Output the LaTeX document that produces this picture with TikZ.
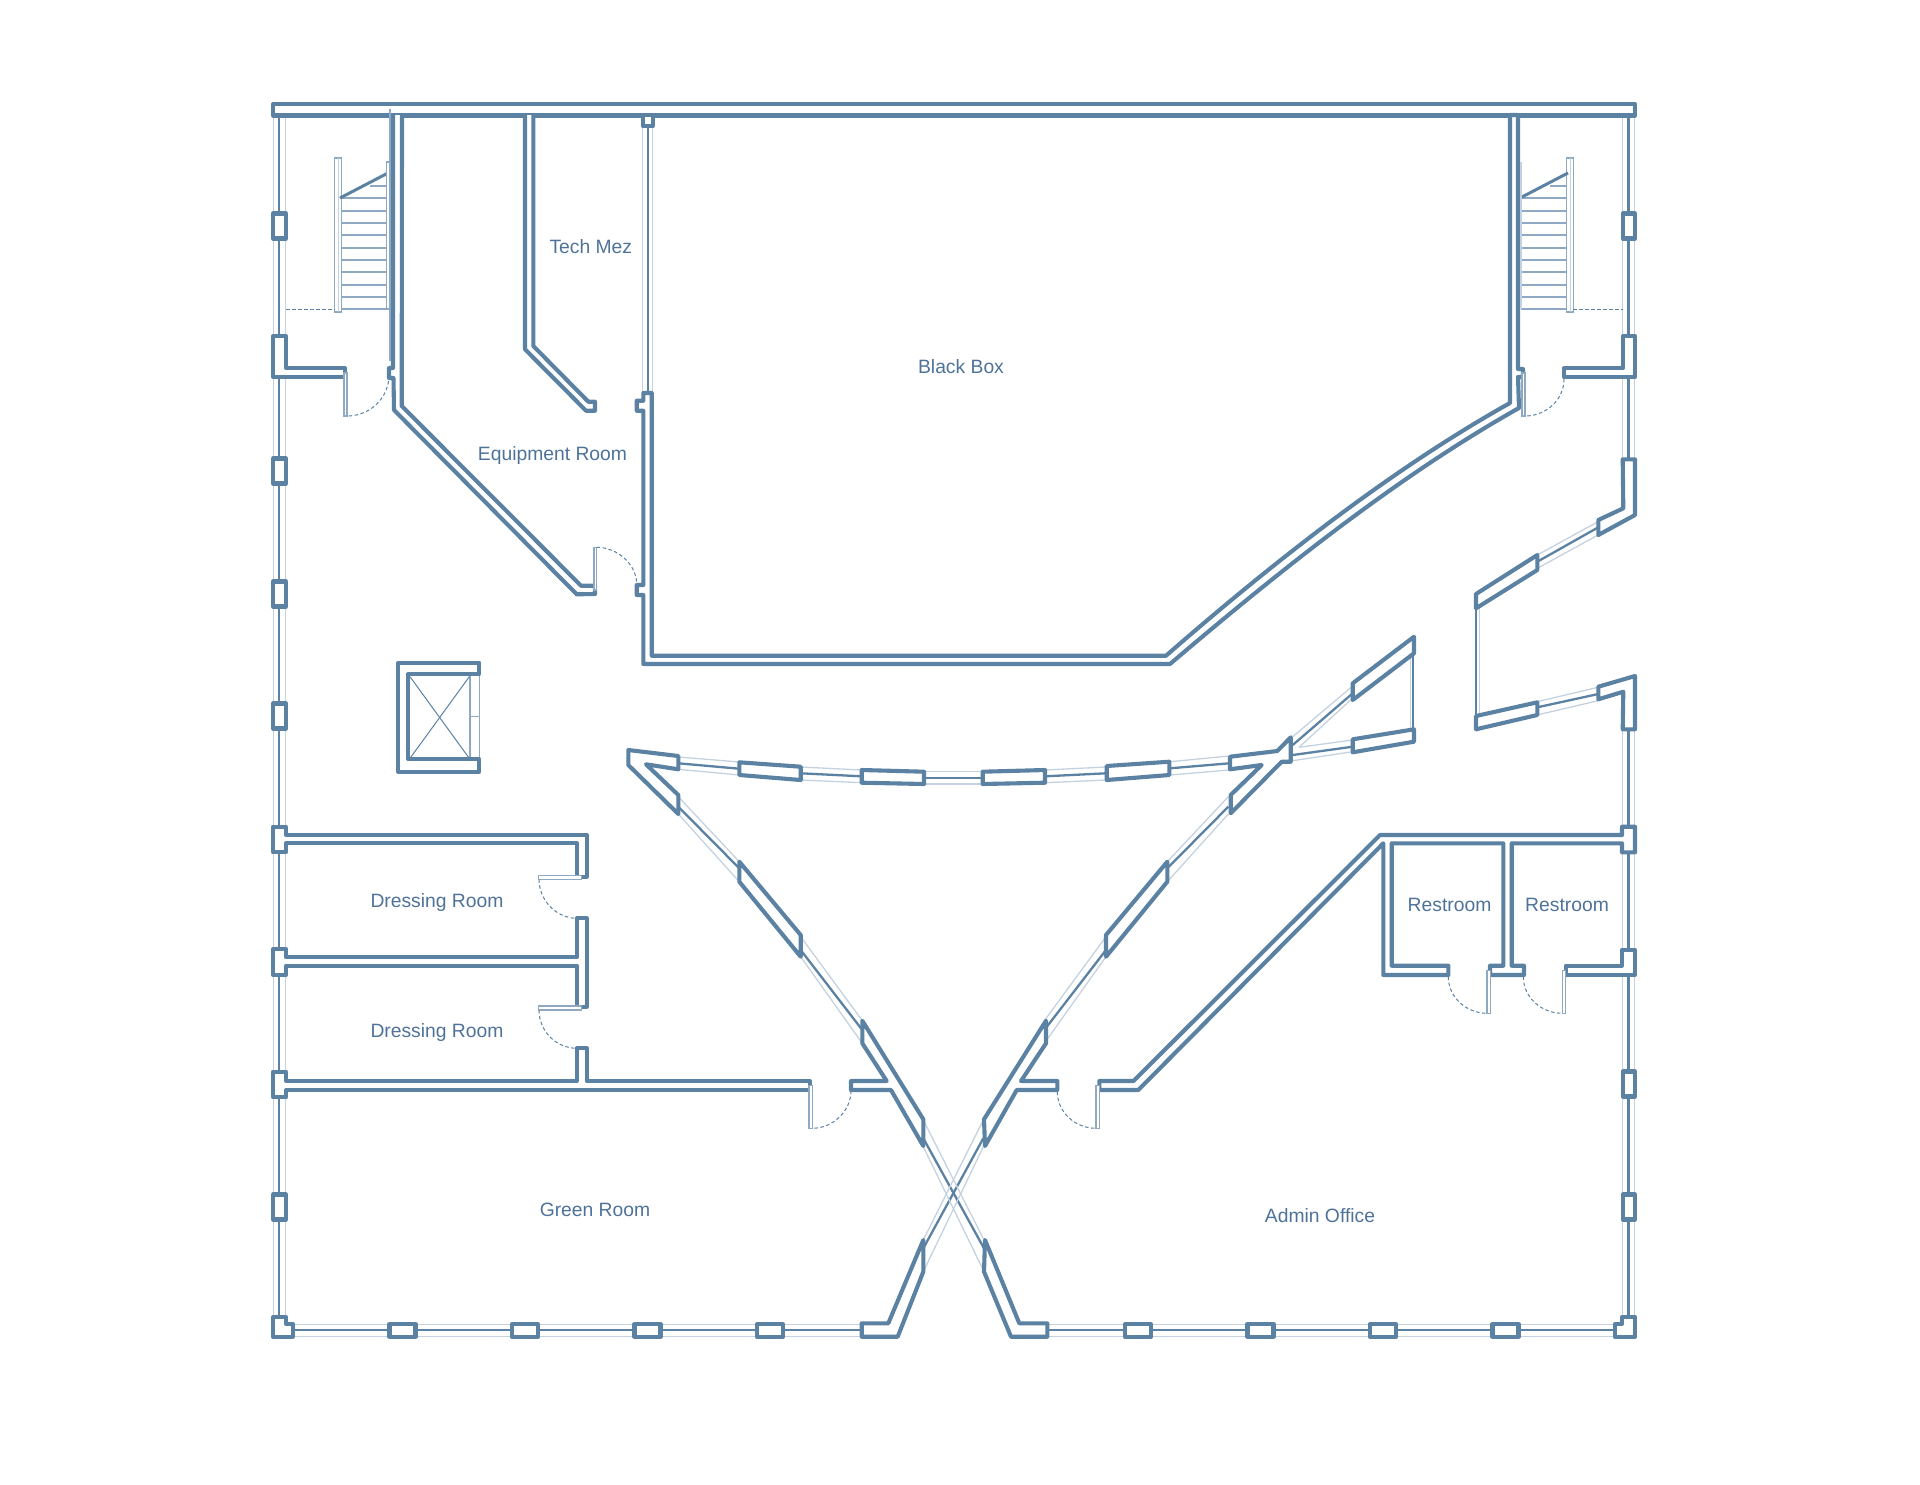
\documentclass[tikz,border=0pt]{standalone}
\usepackage{fontspec}
\setmainfont{Liberation Sans}
\definecolor{wallblue}{HTML}{5B81A3}
\definecolor{glassblue}{HTML}{C4D2E0}
\definecolor{leafblue}{HTML}{8FA9C2}
\definecolor{textblue}{HTML}{4F7299}
\tikzset{
  wall/.style={draw=wallblue,line width=4.1pt,line join=round,fill=white},
  pane/.style={draw=wallblue,line width=2.3pt},
  glass/.style={draw=glassblue,line width=1.3pt},
  leaf/.style={draw=leafblue,line width=1.1pt,fill=white},
  tread/.style={draw=leafblue,line width=1.7pt},
  swing/.style={draw=wallblue,line width=1pt,dash pattern=on 3.5pt off 2.5pt},
  roomlabel/.style={anchor=base,text=textblue,font=\fontsize{19.3}{22}\selectfont,inner sep=0pt},
}
\begin{document}
\begin{tikzpicture}[x=1pt,y=-1pt]
    \useasboundingbox (0,0) rectangle (1920,1484);
    % Outer glazing
    \foreach \xa/\ya/\yb in {279.3/115/1317, 1628.5/115/459, 1628.5/729/1317}{
      \draw[pane] (\xa,\ya) -- (\xa,\yb);
      \draw[glass] (\xa-6,\ya) -- (\xa-6,\yb);
      \draw[glass] (\xa+6,\ya) -- (\xa+6,\yb);
    }
    \foreach \xa/\xb in {293/862, 1047/1615}{
      \draw[pane] (\xa,1330) -- (\xb,1330);
      \draw[glass] (\xa,1324.3) -- (\xb,1324.3);
      \draw[glass] (\xa,1336.7) -- (\xb,1336.7);
    }
    % Curved glazing, dark middle line
    \foreach \xa/\ya/\xb/\yb in {
      678.3/763.3/739.3/768.7, 800.7/773.3/861.7/776.3, 924/778/982.7/778,
      1045/776.3/1106/773.3, 1170/768.3/1229.3/763.3,
      678.3/806.7/739.3/868.3, 800.7/950/862.3/1030, 1228.3/806.7/1167.3/868.3,
      1106/950/1044.3/1030, 923.3/1138.3/984/1248.3, 983.3/1138.3/923.3/1248.3,
      1292.7/745/1352.7/693.3, 1292.7/755/1352.7/746.7,
      1537.3/561.7/1598.3/527.3, 1537.3/707.3/1598.3/694,
      1476/608/1476/716, 1413.3/653.3/1413.3/729.3,
      648/126/648/393}{
      \draw[pane] (\xa,\ya) -- (\xb,\yb);
    }
    % Curved glazing, pale edges
    \foreach \xa/\ya/\xb/\yb in {
      678.3/757/739.3/762, 678.3/769.3/739.3/775, 800.7/767/861.7/770,
      800.7/780/861.7/782.7, 924/771.7/982.7/771.7, 924/784/982.7/784,
      1045/770/1106/767, 1045/782.7/1106/780, 1170/761.7/1229.3/756,
      1170/775/1229.3/770,
      678.3/796.7/739.3/861.7, 678.3/814/739.3/881.7, 800.7/936.7/862.3/1020.7,
      800.7/956.7/862.3/1043.3, 1228.3/796.7/1167.3/861.7, 1228.3/814/1167.3/881.7,
      1106/936.7/1044.3/1020.7, 1106/956.7/1044.3/1043.3,
      923.3/1120/984/1240, 923.3/1146.7/984/1271.7,
      983.3/1120/923.3/1240, 983.3/1146.7/923.3/1271.7,
      1292.7/736.7/1352.7/686, 1299/747.3/1352.7/698, 1299/747.3/1352.7/740,
      1292.7/760.7/1352.7/751.7,
      1537.3/555/1598/521.7, 1537.3/568.3/1598/535,
      1537/701.7/1598/687.3, 1537/715/1598/700.7,
      1479.3/608/1479.3/716, 1410.7/653.3/1410.7/729.3,
      642.7/126/642.7/393, 652.3/126/652.3/393, 643/110/652/110}{
      \draw[glass] (\xa,\ya) -- (\xb,\yb);
    }
    % Top bar
    \draw[wall] (273,104) rectangle (1635,115.5);
    \draw[wall] (642.7,115) rectangle (652.7,126);
    % Piers on the outer walls
    \foreach \ya in {226,471,594,716,1207}{
      \draw[wall] (273,\ya-12.5) rectangle (286,\ya+12.5);
    }
    \foreach \ya in {226,1084,1207}{
      \draw[wall] (1622.7,\ya-12.5) rectangle (1635,\ya+12.5);
    }
    \foreach \xa in {402.5,525,647.5,770,1138,1260.5,1383,1505.5}{
      \draw[wall] (\xa-13,1324) rectangle (\xa+13,1336.7);
    }
    % Outer corners
    \draw[wall] (273,336) -- (286,336) -- (286,368) -- (345,368) -- (345,377) -- (273,377) -- cycle;
    \draw[wall] (1623,336) -- (1635,336) -- (1635,377) -- (1564,377) -- (1564,368) -- (1623,368) -- cycle;
    \draw[wall] (272.7,1317.3) -- (286,1317.3) -- (286,1324) -- (292.7,1324) -- (292.7,1336.7) -- (272.7,1336.7) -- cycle;
    \draw[wall] (1635,1317.3) -- (1622,1317.3) -- (1622,1324) -- (1615,1324) -- (1615,1336.7) -- (1635,1336.7) -- cycle;
    % Equipment room and Tech Mez
    \draw[wall] (393,115) -- (393,368) -- (389,368) -- (389,378) -- (393.5,378) -- (394,410) -- (576.7,594.3)
      -- (595,594) -- (595,585.7) -- (581,585.7) -- (401.7,406) -- (402,115);
    \draw[wall] (525,115) -- (525,349.3) -- (586,410.7) -- (595,410.7) -- (595,401.7) -- (588.3,401.7)
      -- (533.3,346) -- (533.3,115);
    % Black box
    \draw[wall] (651.7,393) -- (643.3,393) -- (643.3,400.7) -- (636.7,400.7) -- (636.7,410.7) -- (643.3,410.7)
      -- (643.3,585) -- (636.7,585) -- (636.7,595) -- (643.3,595) -- (643.3,664) -- (1170,664)
      .. controls (1278,572) and (1398,476) .. (1519,408) -- (1518,377) -- (1523,377) -- (1523,369) -- (1518,369)
      -- (1518,115) -- (1510,115) -- (1510,403)
      .. controls (1390,470) and (1270,565) .. (1166,655.7) -- (651.7,655.7) -- cycle;
    % Lobby openings on the east side
    \draw[wall] (1622.7,459.3) -- (1635,459.3) -- (1635,515) -- (1598.3,535) -- (1598.3,520) -- (1623.3,508.3) -- cycle;
    \draw[wall] (1537.3,555) -- (1537.3,570) -- (1476,608.3) -- (1476,594) -- cycle;
    \draw[wall] (1537.3,702.3) -- (1537.3,715) -- (1476,729.3) -- (1476,716) -- cycle;
    \draw[wall] (1598.3,686.7) -- (1635,676) -- (1635,729.3) -- (1622.7,729.3) -- (1623.3,691.7) -- (1598.3,699.3) -- cycle;
    % Curved wall piers
    \draw[wall] (628.3,750) -- (678.3,756) -- (678.3,769.3) -- (646,764.3) -- (678.3,795) -- (678.3,814) -- (628.3,765) -- cycle;
    \draw[wall] (739.3,762.3) -- (800.7,766.7) -- (800.7,780) -- (739.3,775) -- cycle;
    \draw[wall] (861.7,770) -- (924,771.7) -- (924,784) -- (861.7,782.7) -- cycle;
    \draw[wall] (982.7,771.7) -- (1045,770) -- (1045,782.7) -- (982.7,784) -- cycle;
    \draw[wall] (1106.7,766) -- (1169.3,761.7) -- (1169.3,775) -- (1106.7,780) -- cycle;
    \draw[wall] (1230,756.7) -- (1277.3,751) -- (1290.7,737.3) -- (1290.7,761.7) -- (1281.7,761.7) -- (1230.7,813.3)
      -- (1230.7,795) -- (1261.7,765) -- (1230,769.3) -- cycle;
    \draw[wall] (1352.7,683.3) -- (1414,636.7) -- (1414,653.3) -- (1352.7,700) -- cycle;
    \draw[wall] (1352.7,739.3) -- (1414,729.3) -- (1414,741.7) -- (1352.7,752.3) -- cycle;
    \draw[wall] (739.3,861.7) -- (800.7,935) -- (800.7,956.7) -- (739.3,881.7) -- cycle;
    \draw[wall] (1167.3,861.7) -- (1106,935) -- (1106,956.7) -- (1167.3,881.7) -- cycle;
    % Dressing rooms
    \draw[wall] (286,835) -- (586.7,835) -- (586.7,876.7) -- (576.7,876.7) -- (576.7,843.3) -- (286,843.3) -- (286,852.3)
      -- (273,852.3) -- (273,826.7) -- (286,826.7) -- cycle;
    \draw[wall] (286,957.3) -- (576.7,957.3) -- (576.7,918.3) -- (586.7,918.3) -- (586.7,1006.7) -- (576.7,1006.7)
      -- (576.7,965.7) -- (286,965.7) -- (286,975) -- (273,975) -- (273,949.3) -- (286,949.3) -- cycle;
    \draw[wall] (286,1081) -- (576.7,1081) -- (576.7,1048.3) -- (586.7,1048.3) -- (586.7,1081) -- (810,1081)
      -- (810,1090) -- (286,1090) -- (286,1097.3) -- (273,1097.3) -- (273,1071.7) -- (286,1071.7) -- cycle;
    % X walls
    \draw[wall] (862.3,1020.7) -- (862.3,1043.3) -- (886.7,1081) -- (851,1081) -- (851,1090) -- (891,1090)
      -- (923.3,1146) -- (923.3,1119.3) -- cycle;
    \draw[wall] (1046,1020.7) -- (1046,1043.3) -- (1021,1081) -- (1057.3,1081) -- (1057.3,1090) -- (1016.7,1090)
      -- (985,1146) -- (984,1119.3) -- cycle;
    \draw[wall] (923.3,1240) -- (923.3,1271.7) -- (897.7,1336.7) -- (861.7,1336.7) -- (861.7,1323.3) -- (888.3,1323.3) -- cycle;
    \draw[wall] (985,1240) -- (984,1271.7) -- (1011,1336.7) -- (1047.3,1336.7) -- (1047.3,1323.3) -- (1019.3,1323.3) -- cycle;
    % Admin office and restrooms
    \draw[wall] (1099.3,1081) -- (1133.5,1081) -- (1380,835) -- (1622,835) -- (1622,826.7) -- (1635,826.7) -- (1635,852.3)
      -- (1622,852.3) -- (1622,843.3) -- (1511.7,843.3) -- (1511.7,965.7) -- (1524,965.7) -- (1524,975) -- (1490,975)
      -- (1490,965.7) -- (1503.3,965.7) -- (1503.3,843.3) -- (1391.7,843.3) -- (1391.7,965.7) -- (1448.3,965.7)
      -- (1448.3,975) -- (1383.3,975) -- (1383.3,843.3) -- (1138.3,1090) -- (1099.3,1090) -- cycle;
    \draw[wall] (1621.7,950) -- (1635,950) -- (1635,975) -- (1565.7,975) -- (1565.7,965.7) -- (1621.7,965.7) -- cycle;
    % Elevator
    \draw[leaf] (470,674) rectangle (479.3,759);
    \draw[leaf] (470,716.7) -- (479.3,716.7);
    \draw[wall] (479.3,662.7) -- (398.3,662.7) -- (398.3,771.7) -- (479.3,771.7) -- (479.3,759) -- (408.3,759)
      -- (408.3,674) -- (479.3,674) -- cycle;
    \draw[wallblue,line width=1pt] (410,676.7) -- (469.3,758.3);
    \draw[wallblue,line width=1pt] (469.3,676.7) -- (410,758.3);
    % Stairs
    \foreach \offx/\railx in {0/338, 1180/1570}{
      \foreach \ty in {198.3,210.7,223,235.3,247.7,260,272.3,284.7,297,309}{
        \draw[tread] (341+\offx,\ty) -- (387+\offx,\ty);
      }
      \draw[tread] (370+\offx,186) -- (387+\offx,186);
      \draw[leaf] (\railx-3.3,158) rectangle (\railx+3.3,312);
      \draw[glassblue,line width=0.9pt] (\railx,158) -- (\railx,312);
      \draw[wallblue,line width=3pt] (340+\offx,198) -- (388+\offx,173);
    }
    \draw[leaf] (386.7,162) rectangle (389.3,309);
    \draw[glassblue,line width=2.2pt] (1521,162) -- (1521,309);
    \draw[leafblue,line width=1.2pt] (390,109) -- (390,361);
    \draw[swing] (286,309) -- (335,309);
    \draw[swing] (1573,309) -- (1623,309);
    % Door leaves and swings
    \draw[leaf] (344,373) rectangle (347,416);
    \draw[leaf] (1522,373) rectangle (1525,416);
    \draw[leaf] (594,547.3) rectangle (596.7,590);
    \draw[leaf] (538.3,875.7) rectangle (581.7,879.3);
    \draw[leaf] (538.3,1006) rectangle (581.7,1010);
    \draw[leaf] (809,1085.7) rectangle (812.3,1128.3);
    \draw[leaf] (1096,1085.7) rectangle (1099.3,1128.3);
    \draw[leaf] (1487,970.7) rectangle (1490.7,1013.3);
    \draw[leaf] (1562.3,970.7) rectangle (1565.7,1013.3);
    \draw[swing] (389,375) .. controls (389,398) and (370,416) .. (347,416);
    \draw[swing] (1564,379) .. controls (1564,400) and (1546,416) .. (1525,416);
    \draw[swing] (596.7,547.3) .. controls (618,547.3) and (636.7,565) .. (636.7,584);
    \draw[swing] (539,879.3) .. controls (539,900) and (556,918.3) .. (577,918.3);
    \draw[swing] (539,1010) .. controls (539,1031) and (556,1048.3) .. (577,1048.3);
    \draw[swing] (851,1090.7) .. controls (851,1111) and (833,1128.3) .. (812.3,1128.3);
    \draw[swing] (1057.3,1091.7) .. controls (1057.3,1112) and (1075,1128.3) .. (1096,1128.3);
    \draw[swing] (1448.3,976.7) .. controls (1448.3,997) and (1466,1013.3) .. (1487.3,1013.3);
    \draw[swing] (1523.3,976.7) .. controls (1523.3,997) and (1541,1013.3) .. (1562.3,1013.3);
    % Room labels
    \node[roomlabel] (techmez) at (590.8,253.3) {Tech Mez};
    \node[roomlabel] (blackbox) at (961,373) {Black Box};
    \node[roomlabel] (equipment) at (552.5,460) {Equipment Room};
    \node[roomlabel] (dressingA) at (437,907.3) {Dressing Room};
    \node[roomlabel] (dressingB) at (437,1037.3) {Dressing Room};
    \node[roomlabel] (restroomA) at (1449.5,911.7) {Restroom};
    \node[roomlabel] (restroomB) at (1567,911.7) {Restroom};
    \node[roomlabel] (greenroom) at (595,1216) {Green Room};
    \node[roomlabel] (adminoffice) at (1320,1222) {Admin Office};
\end{tikzpicture}
\end{document}
